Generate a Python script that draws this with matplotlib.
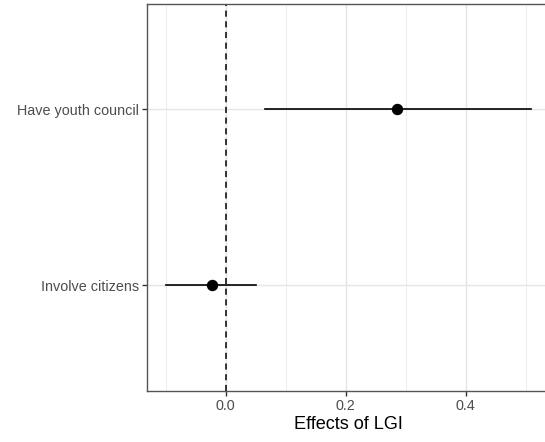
import matplotlib.pyplot as plt
from matplotlib.ticker import MultipleLocator

plt.rcParams['font.family'] = ['Liberation Sans', 'DejaVu Sans']

# Estimates with confidence intervals
labels = ["Have youth council", "Involve citizens"]
estimates = [0.286, -0.023]
lower = [0.066, -0.100]
upper = [0.509, 0.050]

fig = plt.figure(figsize=(5.45, 4.42), dpi=100)
ax = fig.add_axes([0.2706, 0.1161, 0.7378, 0.875])

ypos = [2, 1]

# Grid (theme_bw look)
ax.set_axisbelow(True)
ax.xaxis.set_major_locator(MultipleLocator(0.2))
ax.xaxis.set_minor_locator(MultipleLocator(0.1))
ax.grid(True, which='major', color='#E5E5E5', linewidth=1.0)
ax.grid(True, which='minor', axis='x', color='#EDEDED', linewidth=0.7)

ax.axvline(0, color='black', linestyle=(0, (4, 3)), linewidth=1.1, zorder=2)

for y, est, lo, hi in zip(ypos, estimates, lower, upper):
    ax.plot([lo, hi], [y, y], color='black', linewidth=1.2, zorder=3)
    ax.plot(est, y, 'o', color='black', markersize=7.2, zorder=4)

ax.set_xlim(-0.1305, 0.5395)
ax.set_ylim(0.4, 2.6)
ax.set_yticks(ypos)
ax.set_yticklabels(labels)
ax.set_xticks([0.0, 0.2, 0.4])
ax.set_xticklabels(["0.0", "0.2", "0.4"])

for s in ax.spines.values():
    s.set_color('#555555')
    s.set_linewidth(1.0)

ax.tick_params(axis='both', which='major', length=3.5, width=1.0, color='#333333',
               labelcolor='#4D4D4D', labelsize=10.4, pad=2.5)
ax.tick_params(axis='x', which='minor', length=0)

ax.set_xlabel("Effects of LGI", fontsize=13.1, color='black', labelpad=2)

fig.savefig("out.png", dpi=100)
